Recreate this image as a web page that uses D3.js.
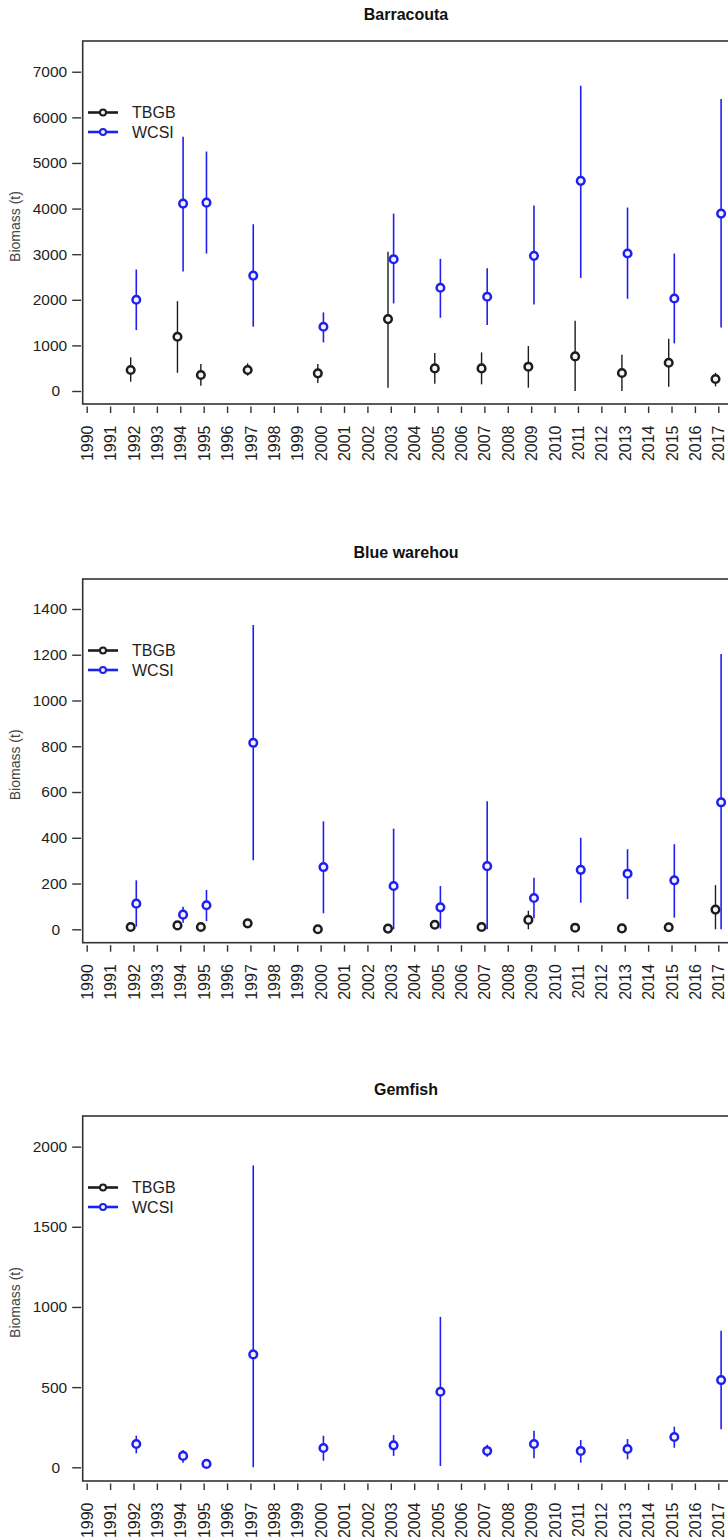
<!DOCTYPE html>
<html>
<head>
<meta charset="utf-8">
<script src="https://cdn.jsdelivr.net/npm/d3@7"></script>
<style>
  html, body { margin: 0; padding: 0; background: #fff; }
  svg { display: block; font-family: "Liberation Sans", Arial, sans-serif; }
</style>
</head>
<body>
<svg id="chart" width="728" height="1537"></svg>
<script>
// Survey years (both areas surveyed in the same years)
const years = [1992, 1994, 1995, 1997, 2000, 2003, 2005, 2007, 2009, 2011, 2013, 2015, 2017];
const axisYears = d3.range(1990, 2018);

// Barracouta biomass (t): estimate, lower and upper bounds
const barracoutaTBGB    = [460, 1190, 350, 460, 387, 1577, 496, 496, 533, 759, 394, 620, 263];
const barracoutaTBGBLo  = [204, 400, 117, 336, 175, 73, 160, 146, 73, 0, 0, 95, 102];
const barracoutaTBGBHi  = [737, 1970, 590, 606, 591, 3051, 832, 847, 985, 1540, 796, 1146, 400];
const barracoutaWCSI    = [2000, 4109, 4130, 2530, 1409, 2890, 2263, 2066, 2963, 4608, 3015, 2029, 3890];
const barracoutaWCSILo  = [1336, 2620, 3015, 1409, 1066, 1920, 1606, 1445, 1898, 2480, 2022, 1044, 1394];
const barracoutaWCSIHi  = [2664, 5574, 5251, 3657, 1723, 3890, 2898, 2693, 4066, 6693, 4022, 3015, 6401];

// Blue warehou biomass (t)
const warehouTBGB   = [10, 17, 10, 26, 0, 3, 20, 10, 41, 7, 4, 9, 86];
const warehouTBGBLo = [3, 8, 3, 18, 0, 0, 8, 2, 0, 0, 0, 2, 0];
const warehouTBGBHi = [18, 27, 18, 36, 5, 8, 34, 18, 81, 14, 9, 17, 193];
const warehouWCSI   = [112, 64, 105, 815, 272, 189, 96, 276, 137, 260, 243, 214, 555];
const warehouWCSILo = [12, 29, 36, 302, 70, 0, 3, 0, 48, 116, 132, 51, 0];
const warehouWCSIHi = [214, 99, 172, 1330, 472, 440, 189, 560, 225, 400, 350, 372, 1203];

// Gemfish biomass (t) - WCSI only
const gemfishWCSI   = [145, 71, 21, 704, 120, 137, 471, 102, 145, 102, 114, 189, 544];
const gemfishWCSILo = [87, 29, 8, 0, 41, 71, 8, 66, 56, 29, 50, 122, 237];
const gemfishWCSIHi = [197, 108, 35, 1882, 197, 201, 938, 141, 228, 170, 176, 253, 851];

// y-axis tick values
const barracoutaTicks = d3.range(0, 7001, 1000);
const warehouTicks    = d3.range(0, 1401, 200);
const gemfishTicks    = d3.range(0, 2001, 500);

const seriesNames = ["TBGB", "WCSI"];

function zipSeries(est, lo, hi) {
  return years.map((yr, i) => ({ year: yr, est: est[i], lo: lo[i], hi: hi[i] }));
}

const panels = [
  {
    title: "Barracouta", ticks: barracoutaTicks, extent: [-285, 7674],
    series: [zipSeries(barracoutaTBGB, barracoutaTBGBLo, barracoutaTBGBHi),
             zipSeries(barracoutaWCSI, barracoutaWCSILo, barracoutaWCSIHi)]
  },
  {
    title: "Blue warehou", ticks: warehouTicks, extent: [-58.6, 1531],
    series: [zipSeries(warehouTBGB, warehouTBGBLo, warehouTBGBHi),
             zipSeries(warehouWCSI, warehouWCSILo, warehouWCSIHi)]
  },
  {
    title: "Gemfish", ticks: gemfishTicks, extent: [-85.5, 2191],
    series: [[], zipSeries(gemfishWCSI, gemfishWCSILo, gemfishWCSIHi)]
  }
];

// Layout of each panel's plotting box
const boxes = [
  { top: 41, bottom: 404 },
  { top: 579, bottom: 942.7 },
  { top: 1116, bottom: 1481 }
];
const boxLeft = 82.7, boxRight = 730;
const colors = ["#1c1c1c", "#1f1ff0"];
const yearShift = [-0.12, 0.12];

const svg = d3.select("#chart");

const x = d3.scaleLinear().domain([1990, 2017]).range([86.7, 718.3]);

panels.forEach((p, pi) => {
  const b = boxes[pi];
  const y = d3.scaleLinear().domain(p.extent).range([b.bottom, b.top]);
  const g = svg.append("g");

  // title
  g.append("text")
    .attr("x", 406).attr("y", b.top - 21.5)
    .attr("text-anchor", "middle")
    .attr("font-size", 16).attr("font-weight", "bold")
    .attr("fill", "#111")
    .text(p.title);

  // frame
  g.append("rect")
    .attr("x", boxLeft).attr("y", b.top)
    .attr("width", boxRight - boxLeft).attr("height", b.bottom - b.top)
    .attr("fill", "none").attr("stroke", "#333").attr("stroke-width", 1.6);

  // y axis: ticks and labels
  const yAxis = d3.axisLeft(y).tickValues(p.ticks).tickSize(9).tickPadding(5).tickFormat(d3.format("d"));
  const ya = g.append("g").attr("transform", `translate(${boxLeft - 1.5},0)`).call(yAxis);
  ya.select(".domain").remove();
  ya.selectAll(".tick line").attr("stroke", "#333").attr("stroke-width", 1.4);
  ya.selectAll(".tick text")
    .attr("font-size", 15.5).attr("fill", "#1e1e1e")
    .attr("font-family", "Liberation Sans, Arial, sans-serif")
    .attr("dx", d => d === 0 ? -7 : 0);

  // y axis title
  g.append("text")
    .attr("transform", `translate(20,${(b.top + b.bottom) / 2 + 4}) rotate(-90)`)
    .attr("text-anchor", "middle")
    .attr("font-size", 14).attr("fill", "#444")
    .text("Biomass (t)");

  // x axis: every year
  const xAxis = d3.axisBottom(x).tickValues(axisYears).tickSize(6.5).tickPadding(0).tickFormat(d3.format("d"));
  const xa = g.append("g").attr("transform", `translate(0,${b.bottom + 2.5})`).call(xAxis);
  xa.select(".domain").remove();
  xa.selectAll(".tick line").attr("stroke", "#333").attr("stroke-width", 1.4);
  xa.selectAll(".tick text")
    .attr("font-size", 16).attr("fill", "#1e1e1e")
    .attr("font-family", "Liberation Sans, Arial, sans-serif")
    .attr("text-anchor", "end")
    .attr("transform", "translate(0,19) rotate(-90)")
    .attr("x", 0).attr("y", 0).attr("dy", "0.35em");

  // error bars and estimates
  p.series.forEach((data, si) => {
    const sg = g.append("g");
    sg.selectAll("line.err").data(data).join("line")
      .attr("class", "err")
      .attr("x1", d => x(d.year + yearShift[si])).attr("x2", d => x(d.year + yearShift[si]))
      .attr("y1", d => y(d.lo)).attr("y2", d => y(d.hi))
      .attr("stroke", colors[si]).attr("stroke-width", si === 0 ? 1.4 : 1.6);
    sg.selectAll("circle").data(data).join("circle")
      .attr("cx", d => x(d.year + yearShift[si])).attr("cy", d => y(d.est))
      .attr("r", 3.8)
      .attr("fill", "#f2f2fa").attr("stroke", colors[si]).attr("stroke-width", 2.5);
  });

  // legend
  const lg = g.append("g");
  seriesNames.forEach((name, si) => {
    const ly = b.top + 71.5 + si * 19.5;
    lg.append("line").attr("x1", 88).attr("x2", 118).attr("y1", ly).attr("y2", ly)
      .attr("stroke", colors[si]).attr("stroke-width", 2.6);
    lg.append("circle").attr("cx", 103).attr("cy", ly).attr("r", 3)
      .attr("fill", "#f2f2fa").attr("stroke", colors[si]).attr("stroke-width", 2);
    lg.append("text").attr("x", 132).attr("y", ly).attr("dy", "0.36em")
      .attr("font-size", 16).attr("fill", "#1e1e1e").text(name);
  });
});
</script>
</body>
</html>
